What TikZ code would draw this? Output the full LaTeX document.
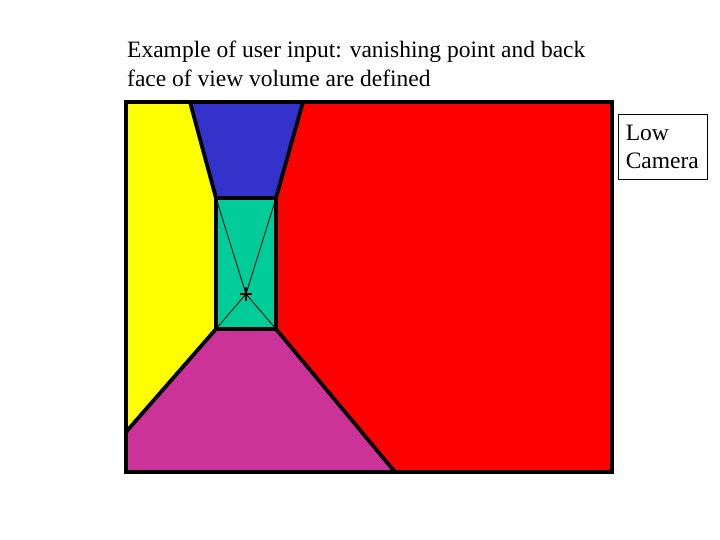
\documentclass[tikz,border=0pt]{standalone}
\usepackage{fontspec}
\setmainfont{Liberation Serif}
\usetikzlibrary{calc}
\definecolor{cyel}{HTML}{FFFF00}
\definecolor{cblue}{HTML}{3333CC}
\definecolor{cgreen}{HTML}{00CC99}
\definecolor{cmag}{HTML}{CC3399}
\definecolor{cred}{HTML}{FF0000}
\tikzset{
  edge/.style={line width=3.8pt, line join=round, line cap=round},
  thin/.style={line width=0.8pt},
  txt/.style={font=\fontsize{23.5}{28.5}\selectfont, inner sep=0pt, align=left}
}
\begin{document}
\begin{tikzpicture}[x=1pt,y=-1pt]
\useasboundingbox (0,0) rectangle (720,540);
% corner coordinates
\coordinate (TL) at (126,102);
\coordinate (TR) at (612,102);
\coordinate (BR) at (612,472);
\coordinate (BL) at (126,472);
\coordinate (bt1) at (190,102);
\coordinate (bt2) at (303,102);
\coordinate (g1) at (216,198);
\coordinate (g2) at (276,198);
\coordinate (g3) at (276,329);
\coordinate (g4) at (216,329);
\coordinate (ym) at (126,432);
\coordinate (mr) at (395,472);
\coordinate (vp) at (246,294);
% fills
\fill[cred] (TL) rectangle (BR);
\fill[cyel] (TL) -- (bt1) -- (g1) -- (g4) -- (ym) -- cycle;
\fill[cblue] (bt1) -- (bt2) -- (g2) -- (g1) -- cycle;
\fill[cgreen] (g1) rectangle (g3);
\fill[cmag] (g4) -- (g3) -- (mr) -- (BL) -- (ym) -- cycle;
% thin lines to vanishing point
\draw[thin] (g1) -- (vp) (g2) -- (vp) (g3) -- (vp) (g4) -- (vp);
\draw[line width=1.8pt] ($(vp)+(-6,0)$) -- ($(vp)+(6,0)$);
\draw[line width=1.8pt] ($(vp)+(0,-7)$) -- ($(vp)+(0,7)$);
% edges
\draw[edge] (g1) rectangle (g3);
\draw[edge] (bt1) -- (g1) (bt2) -- (g2) (g3) -- (mr) (g4) -- (ym);
\draw[edge, line width=4.2pt, line cap=butt, line join=miter] (TL) rectangle (BR);
% texts
\node[txt, anchor=north west] (title) at (127,41) {Example of user input: vanishing point and back\\face of view volume are defined};
\node[draw, line width=0.6pt, txt, inner xsep=7.5pt, inner ysep=0pt, minimum width=89pt, minimum height=65pt, anchor=north west, text width=74pt] (lbl) at (618,114) {Low\\Camera};
\end{tikzpicture}
\end{document}
